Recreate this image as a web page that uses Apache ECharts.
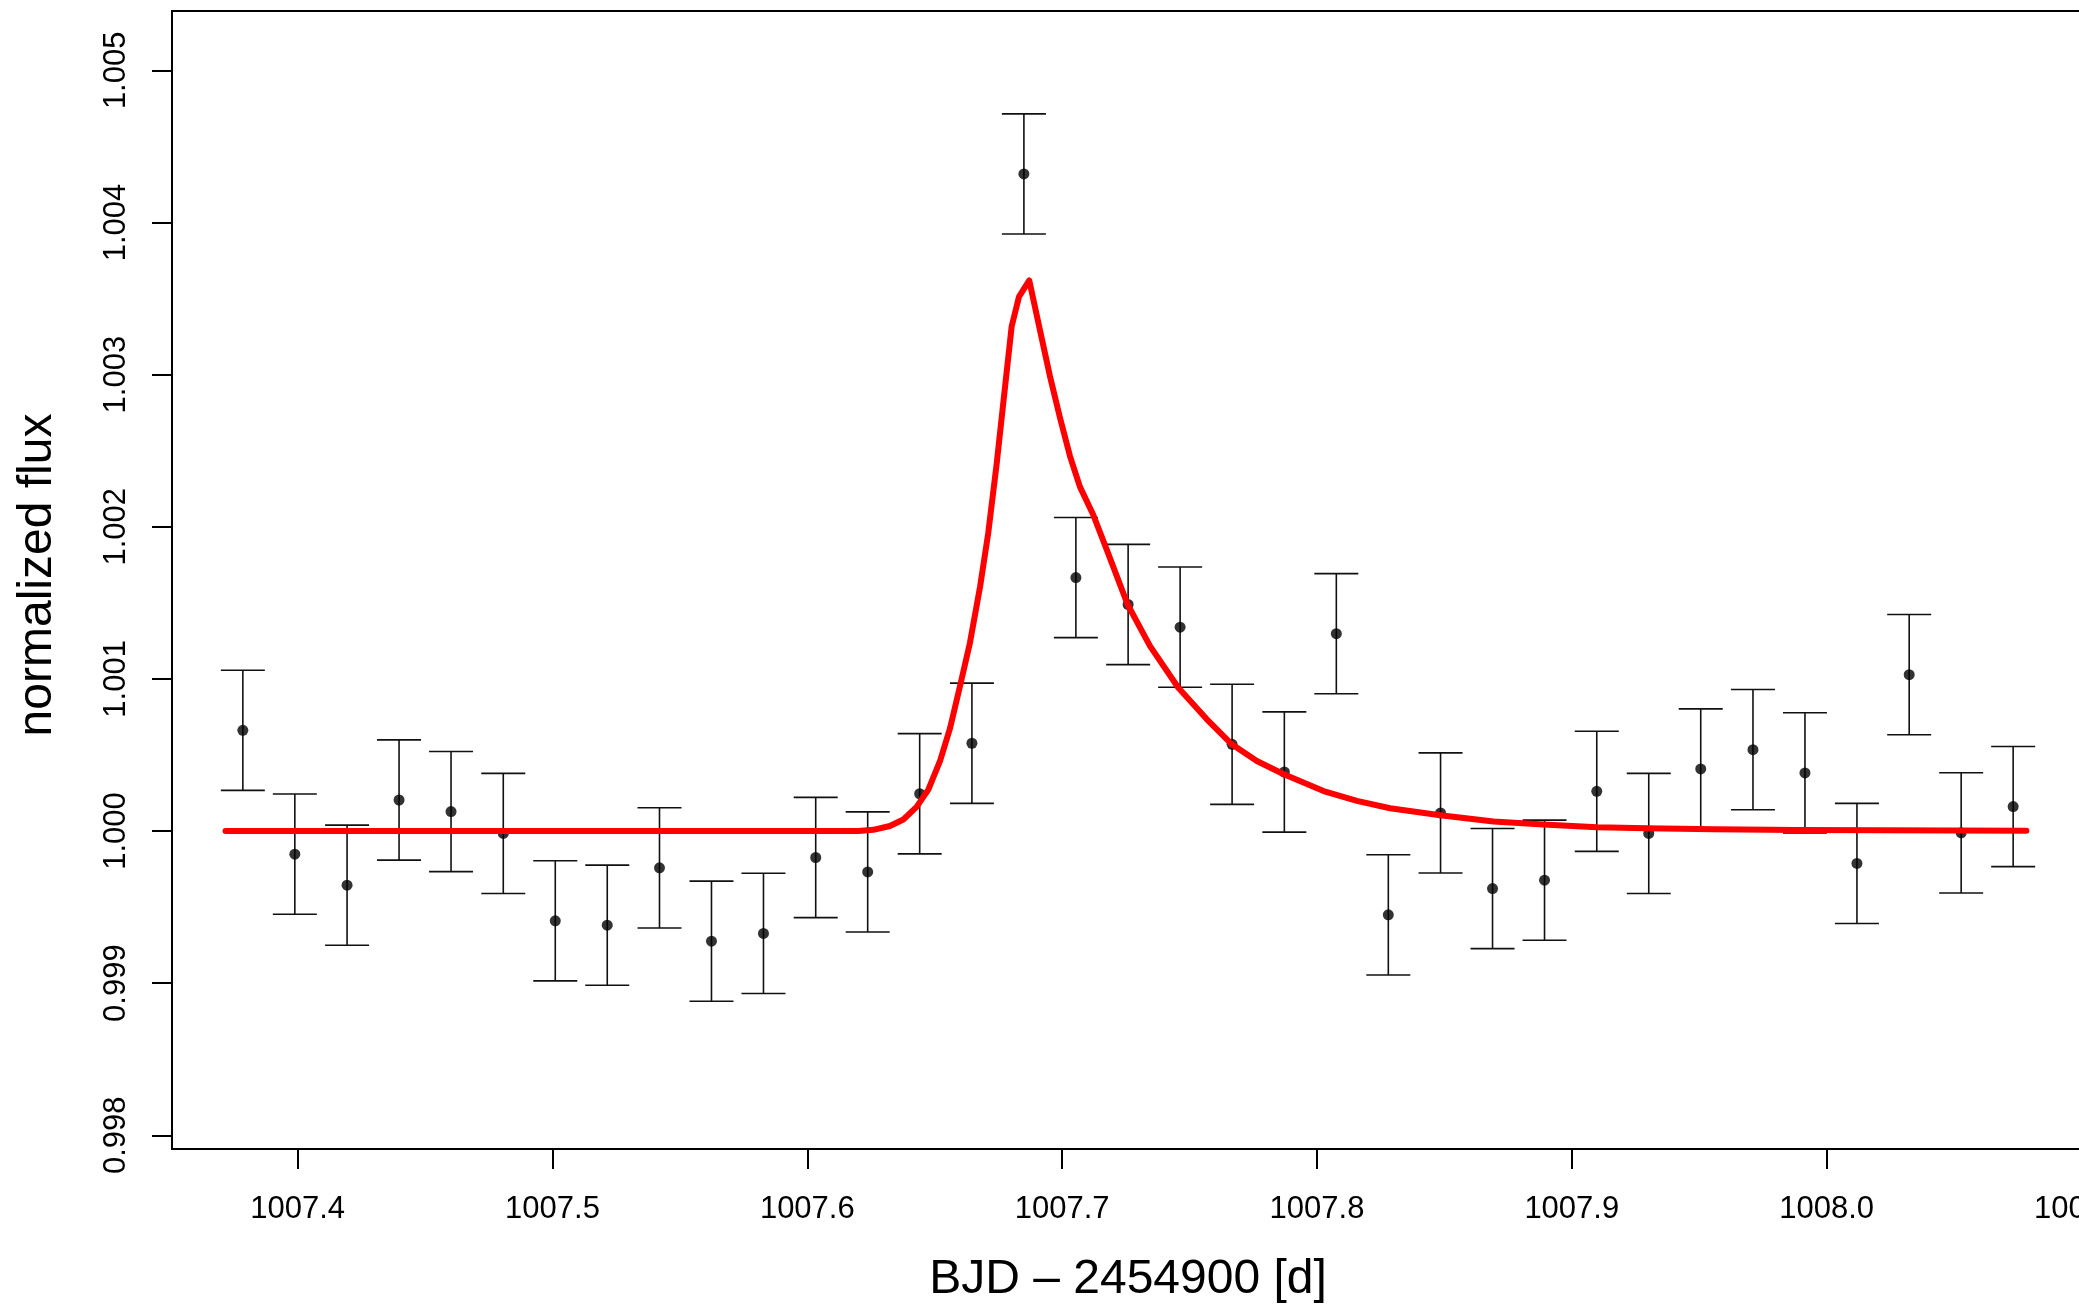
<!DOCTYPE html>
<html><head><meta charset="utf-8">
<script src="https://cdn.jsdelivr.net/npm/echarts@6/dist/echarts.min.js"></script>
<style>html,body{margin:0;padding:0;background:#fff;overflow:hidden}#c{width:2079px;height:1309px}</style>
</head><body><div id="c"></div>
<script>
// observed light curve (BJD - 2454900)
const obsTime = [1007.3785,1007.3989,1007.4194,1007.4398,1007.4602,1007.4807,1007.5011,1007.5215,1007.5420,1007.5624,
  1007.5828,1007.6033,1007.6237,1007.6441,1007.6646,1007.6850,1007.7054,1007.7259,1007.7463,1007.7667,
  1007.7872,1007.8076,1007.8280,1007.8485,1007.8689,1007.8893,1007.9098,1007.9302,1007.9506,1007.9711,
  1007.9915,1008.0119,1008.0324,1008.0528,1008.0732];
const obsFlux = [1.000662,0.999848,0.999644,1.000204,1.000128,0.999984,0.999410,0.999381,0.999758,0.999276,
  0.999327,0.999826,0.999731,1.000245,1.000577,1.004319,1.001666,1.001489,1.001340,1.000570,
  1.000388,1.001297,0.999449,1.000119,0.999622,0.999677,1.000261,0.999984,1.000408,1.000535,
  1.000382,0.999787,1.001028,0.999988,1.000161];
const obsErr = [0.000395,0.000395,0.000395,0.000395,0.000395,0.000395,0.000395,0.000395,0.000395,0.000395,
  0.000395,0.000395,0.000395,0.000395,0.000395,0.000395,0.000395,0.000395,0.000395,0.000395,
  0.000395,0.000395,0.000395,0.000395,0.000395,0.000395,0.000395,0.000395,0.000395,0.000395,
  0.000395,0.000395,0.000395,0.000395,0.000395];
// flare model curve
const modelTime = [1007.3717,1007.6200,1007.6259,1007.6324,1007.6377,1007.6429,1007.6475,1007.6521,1007.6560,1007.6599,
  1007.6638,1007.6678,1007.6710,1007.6743,1007.6769,1007.6802,1007.6831,1007.6871,1007.6913,1007.6952,
  1007.6992,1007.7031,1007.7070,1007.7122,1007.7175,1007.7257,1007.7345,1007.7456,1007.7568,1007.7666,
  1007.7764,1007.7870,1007.8026,1007.8157,1007.8287,1007.8484,1007.8693,1007.8889,1007.9099,1007.9295,
  1007.9557,1007.9884,1008.0211,1008.0784];
const modelFlux = [1.000000,1.000000,1.000008,1.000033,1.000076,1.000159,1.000272,1.000461,1.000675,1.000951,
  1.001235,1.001606,1.001958,1.002411,1.002813,1.003317,1.003513,1.003619,1.003292,1.002991,
  1.002714,1.002463,1.002262,1.002079,1.001850,1.001489,1.001215,1.000942,1.000734,1.000570,
  1.000460,1.000373,1.000263,1.000198,1.000150,1.000104,1.000062,1.000043,1.000025,1.000018,
  1.000012,1.000007,1.000005,1.000002];
const xTicks = [1007.4,1007.5,1007.6,1007.7,1007.8,1007.9,1008.0,1008.1];
const yTicks = [0.998,0.999,1.000,1.001,1.002,1.003,1.004,1.005];
const xTitle = 'BJD \u2013 2454900 [d]';
const yTitle = 'normalized flux';

const FONT = '"Liberation Sans", Arial, Helvetica, sans-serif';
const chart = echarts.init(document.getElementById('c'), null, {renderer:'canvas'});
const axisCommon = {
  type:'value', scale:true,
  splitLine:{show:false},
  axisLine:{show:true, lineStyle:{color:'#000', width:2}},
  axisTick:{show:true, inside:false, length:20, lineStyle:{color:'#000', width:2}},
};
chart.setOption({
  animation:false,
  backgroundColor:'#fff',
  grid:{left:172, top:11, width:1912, height:1138, show:true, borderColor:'#000', borderWidth:2,
    containLabel:false, outerBoundsMode:'none'},
  xAxis:Object.assign({}, axisCommon, {
    min:1007.3507, max:1008.1010,
    axisTick:Object.assign({}, axisCommon.axisTick, {customValues:xTicks}),
    axisLabel:{customValues:xTicks, formatter:v=>v.toFixed(1), fontFamily:FONT, fontSize:31, color:'#000',
      margin:60, verticalAlign:'middle', align:'center', showMaxLabel:true, hideOverlap:false}
  }),
  yAxis:Object.assign({}, axisCommon, {
    min:0.99791, max:1.00539,
    axisTick:Object.assign({}, axisCommon.axisTick, {customValues:yTicks}),
    axisLabel:{customValues:yTicks, formatter:v=>v.toFixed(3), fontFamily:FONT, fontSize:31, color:'#000',
      rotate:90, margin:56, verticalAlign:'middle', align:'center'}
  }),
  graphic:[
    {type:'text', x:1128, y:1280, style:{text:xTitle, font:'48px '+FONT, fill:'#000', textAlign:'center', textVerticalAlign:'middle'}},
    {type:'text', x:38, y:575, rotation:Math.PI/2, style:{text:yTitle, font:'48px '+FONT, fill:'#000', textAlign:'center', textVerticalAlign:'middle'}}
  ],
  series:[
    {
      type:'custom', name:'errors', silent:true, z:2,
      data:obsTime.map((t,i)=>[t, obsFlux[i]-obsErr[i], obsFlux[i]+obsErr[i]]),
      encode:{x:0, y:[1,2]},
      renderItem:function(params, api){
        const x = api.value(0);
        const lo = api.coord([x, api.value(1)]);
        const hi = api.coord([x, api.value(2)]);
        const w = 22;
        const st = {stroke:'#111', lineWidth:1.6};
        return {type:'group', children:[
          {type:'line', shape:{x1:lo[0], y1:lo[1], x2:hi[0], y2:hi[1]}, style:st},
          {type:'line', shape:{x1:lo[0]-w, y1:lo[1], x2:lo[0]+w, y2:lo[1]}, style:st},
          {type:'line', shape:{x1:hi[0]-w, y1:hi[1], x2:hi[0]+w, y2:hi[1]}, style:st}
        ]};
      }
    },
    {
      type:'scatter', name:'flux', z:3, silent:true,
      data:obsTime.map((t,i)=>[t, obsFlux[i]]),
      symbol:'circle', symbolSize:11, itemStyle:{color:'#000'}
    },
    {
      type:'line', name:'model', z:4, silent:true,
      data:modelTime.map((t,i)=>[t, modelFlux[i]]),
      showSymbol:false, smooth:false,
      lineStyle:{color:'#ff0000', width:6, cap:'round', join:'round'}
    }
  ]
});
</script></body></html>
